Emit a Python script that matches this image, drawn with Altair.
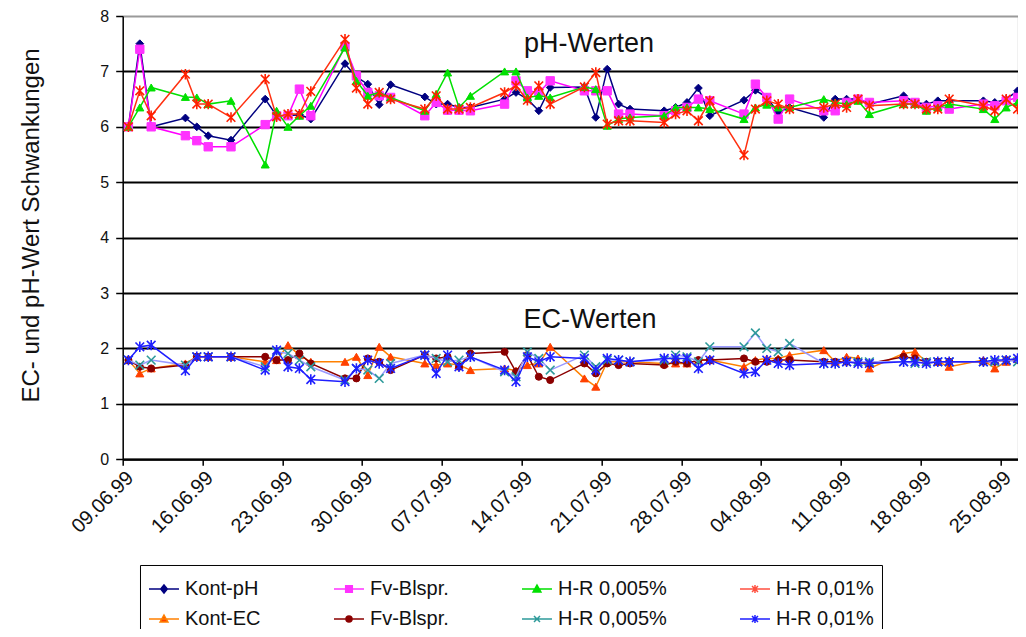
import json
import altair as alt
import pandas as pd

# ---------------- data ----------------
# sampling days, counted from 09.06.99 (readings taken around midday)
days = [0, 1, 2, 5, 6, 7, 9, 12, 13, 14, 15, 16, 19, 20, 21, 22, 23,
        26, 27, 28, 29, 30, 33, 34, 35, 36, 37, 40, 41, 42, 43, 44,
        47, 48, 49, 50, 51, 54, 55, 56, 57, 58, 61, 62, 63, 64, 65,
        68, 69, 70, 71, 72, 75, 76, 77, 78]
reading_hour = 12

kont_ph = [6.0, 7.5, 6.0, 6.16, 6.0, 5.84, 5.76, 6.5, 6.2, 6.2, 6.22, 6.14,
           7.14, 6.9, 6.77, 6.4, 6.76, 6.54, 6.41, 6.41, 6.35, 6.35,
           6.5, 6.62, 6.5, 6.29, 6.71, 6.72, 6.17, 7.04, 6.41, 6.32,
           6.29, 6.35, 6.44, 6.70, 6.2, 6.48, 6.66, 6.53, 6.26, 6.35,
           6.17, 6.5, 6.5, 6.5, 6.41, 6.56, 6.44, 6.41, 6.47, 6.47,
           6.47, 6.44, 6.5, 6.65]
fv_ph = [6.0, 7.4, 6.0, 5.84, 5.75, 5.64, 5.64, 6.04, 6.2, 6.2, 6.68, 6.2,
         7.45, 6.92, 6.62, 6.56, 6.53, 6.2, 6.44, 6.3, 6.3, 6.29,
         6.41, 6.83, 6.65, 6.62, 6.83, 6.65, 6.65, 6.65, 6.23, 6.23,
         6.2, 6.29, 6.35, 6.5, 6.47, 6.23, 6.77, 6.53, 6.14, 6.5,
         6.29, 6.29, 6.44, 6.5, 6.44, 6.47, 6.44, 6.35, 6.38, 6.32,
         6.41, 6.38, 6.47, 6.53]
hr005_ph = [6.0, 6.35, 6.71, 6.54, 6.53, 6.41, 6.47, 5.32, 6.29, 6.0, 6.2, 6.38,
            7.43, 6.83, 6.56, 6.62, 6.53, 6.29, 6.59, 6.98, 6.35, 6.56,
            7.0, 7.0, 6.53, 6.56, 6.53, 6.72, 6.68, 6.02, 6.14, 6.17,
            6.2, 6.35, 6.35, 6.35, 6.32, 6.14, 6.35, 6.4, 6.35, 6.35,
            6.5, 6.44, 6.41, 6.47, 6.23, 6.41, 6.41, 6.29, 6.35, 6.41,
            6.32, 6.14, 6.35, 6.44]
hr01_ph = [6.0, 6.65, 6.2, 6.95, 6.41, 6.41, 6.17, 6.86, 6.18, 6.23, 6.23, 6.64,
           7.58, 6.7, 6.41, 6.62, 6.5, 6.32, 6.56, 6.32, 6.32, 6.35,
           6.62, 6.74, 6.48, 6.74, 6.41, 6.72, 6.98, 6.05, 6.11, 6.11,
           6.08, 6.23, 6.29, 6.11, 6.47, 5.49, 6.32, 6.47, 6.41, 6.32,
           6.35, 6.41, 6.35, 6.5, 6.38, 6.41, 6.41, 6.32, 6.32, 6.5,
           6.38, 6.29, 6.5, 6.32]
kont_ec = [1.79, 1.55, 1.64, 1.73, 1.85, 1.85, 1.85, 1.76, 1.79, 2.06, 1.88, 1.76,
           1.76, 1.85, 1.52, 2.03, 1.85, 1.73, 1.7, 1.73, 1.7, 1.61,
           1.64, 1.6, 1.7, 1.73, 2.03, 1.46, 1.31, 1.76, 1.76, 1.76,
           1.73, 1.73, 1.73, 1.79, 1.79, 1.67, 1.79, 1.82, 1.82, 1.88,
           1.97, 1.76, 1.85, 1.82, 1.64, 1.91, 1.94, 1.76, 1.76, 1.67,
           1.79, 1.64, 1.76, 1.82]
fv_ec = [1.79, 1.67, 1.64, 1.7, 1.85, 1.85, 1.85, 1.85, 1.79, 1.79, 1.91, 1.73,
         1.46, 1.46, 1.82, 1.76, 1.61, 1.88, 1.82, 1.85, 1.67, 1.91,
         1.94, 1.58, 1.88, 1.49, 1.43, 1.73, 1.55, 1.73, 1.7, 1.73,
         1.7, 1.76, 1.73, 1.79, 1.79, 1.82, 1.76, 1.76, 1.79, 1.79,
         1.76, 1.76, 1.76, 1.76, 1.73, 1.85, 1.82, 1.76, 1.76, 1.76,
         1.76, 1.76, 1.79, 1.79]
hr005_ec = [1.79, 1.7, 1.79, 1.7, 1.85, 1.85, 1.85, 1.67, 1.94, 1.91, 1.79, 1.67,
            1.43, 1.64, 1.61, 1.46, 1.73, 1.88, 1.82, 1.76, 1.79, 1.85,
            1.58, 1.49, 1.94, 1.82, 1.61, 1.88, 1.67, 1.79, 1.79, 1.76,
            1.79, 1.88, 1.85, 1.76, 2.03, 2.03, 2.28, 2.0, 1.94, 2.09,
            1.73, 1.73, 1.76, 1.76, 1.76, 1.76, 1.73, 1.76, 1.76, 1.76,
            1.76, 1.76, 1.79, 1.76]
hr01_ec = [1.79, 2.03, 2.06, 1.6, 1.85, 1.85, 1.85, 1.61, 1.97, 1.67, 1.64, 1.44,
           1.4, 1.64, 1.79, 1.73, 1.64, 1.88, 1.55, 1.88, 1.67, 1.85,
           1.61, 1.4, 1.85, 1.76, 1.85, 1.82, 1.61, 1.82, 1.79, 1.76,
           1.82, 1.82, 1.82, 1.64, 1.79, 1.55, 1.58, 1.79, 1.73, 1.7,
           1.73, 1.73, 1.76, 1.73, 1.73, 1.76, 1.76, 1.73, 1.76, 1.76,
           1.76, 1.79, 1.79, 1.82]

series_keys = ["pH Kont", "pH Fv", "pH HR005", "pH HR01",
               "EC Kont", "EC Fv", "EC HR005", "EC HR01"]
legend_labels = ["Kont-pH", "Fv-Blspr.", "H-R 0,005%", "H-R 0,01%",
                 "Kont-EC", "Fv-Blspr.", "H-R 0,005%", "H-R 0,01%"]
series_values = [kont_ph, fv_ph, hr005_ph, hr01_ph, kont_ec, fv_ec, hr005_ec, hr01_ec]

tick_days = [0, 7, 14, 21, 28, 35, 42, 49, 56, 63, 70, 77]
tick_labels = ["09.06.99", "16.06.99", "23.06.99", "30.06.99", "07.07.99", "14.07.99",
               "21.07.99", "28.07.99", "04.08.99", "11.08.99", "18.08.99", "25.08.99"]

annot_text = ["pH-Werten", "EC-Werten"]
annot_day = [40.9, 41.0]
annot_value = [7.5, 2.51]

# ---------------- styles ----------------
STAR = "M-1,-1L1,1M-1,1L1,-1M0,-1.2L0,1.2"
XMARK = "M-1,-1L1,1M-1,1L1,-1"
line_colors = ["#000080", "#FF00FF", "#00E000", "#FF3010",
               "#FF8000", "#8B0000", "#9A9AFF", "#1F1FFF"]
marker_fill = ["#000080", "#FF33FF", "#00E000", "#FF2000",
               "#FF4000", "#8B0000", "#2E9A9A", "#1F1FFF"]
marker_stroke = ["#000080", "#FF33FF", "#00E000", "#FF2000",
                 "#FF4000", "#8B0000", "#2E9A9A", "#1F1FFF"]
marker_shape = ["diamond", "square", "triangle-up", STAR,
                "triangle-up", "circle", XMARK, STAR]
marker_size = [60, 70, 65, 75, 65, 50, 75, 75]
legend_paths = [
    "M-1,0L1,0M0,-0.27L0.22,0L0,0.27L-0.22,0Z",
    "M-1,0L1,0M-0.22,-0.22L0.22,-0.22L0.22,0.22L-0.22,0.22Z",
    "M-1,0L1,0M0,-0.26L0.26,0.2L-0.26,0.2Z",
    "M-1,0L1,0M-0.2,-0.2L0.2,0.2M-0.2,0.2L0.2,-0.2M0,-0.26L0,0.26",
    "M-1,0L1,0M0,-0.26L0.26,0.2L-0.26,0.2Z",
    "M-1,0L1,0M0.2,0A0.2,0.2,0,1,1,-0.2,0A0.2,0.2,0,1,1,0.2,0Z",
    "M-1,0L1,0M-0.2,-0.2L0.2,0.2M-0.2,0.2L0.2,-0.2",
    "M-1,0L1,0M-0.2,-0.2L0.2,0.2M-0.2,0.2L0.2,-0.2M0,-0.26L0,0.26",
]
legend_stroke = ["#000080", "#FF33FF", "#00E000", "#FF5040",
                 "#FF8000", "#8B0000", "#2E9A9A", "#1F1FFF"]

FONT = "Liberation Sans"

# ---------------- table ----------------
rows = []
for key, vals in zip(series_keys, series_values):
    for d, v in zip(days, vals):
        rows.append({"key": key, "x": d + reading_hour / 24.0, "value": v})
df = pd.DataFrame(rows)

annot_df = pd.DataFrame({"text": annot_text, "x": annot_day, "value": annot_value})

x_label_expr = "{}[round(datum.value / 7)]".format(json.dumps(tick_labels))

x_enc = alt.X("x:Q",
              scale=alt.Scale(domain=[0, 78.5], nice=False, zero=False),
              axis=alt.Axis(values=tick_days, labelExpr=x_label_expr, labelAngle=-45,
                            grid=False, title=None, domainColor="black", domainWidth=2,
                            tickColor="black", tickSize=6, tickWidth=1.5,
                            labelFontSize=20, labelPadding=2, labelColor="#111"))
y_enc = alt.Y("value:Q",
              scale=alt.Scale(domain=[0, 8], nice=False),
              axis=alt.Axis(values=list(range(9)), title="EC- und pH-Wert Schwankungen",
                            grid=True, gridWidth=1.8,
                            gridColor={"condition": {"test": "datum.value == 8", "value": "#9a9a9a"},
                                       "value": "#000000"},
                            domainColor="black", domainWidth=1.5,
                            tickColor="black", tickSize=7, tickWidth=1.5,
                            labelFontSize=16, labelPadding=7, labelColor="#111",
                            titleFontSize=24, titleFontWeight="normal", titleColor="#111",
                            titleX=-91, titleY=209, titleBaseline="middle"))

layers = []
for i, key in enumerate(series_keys):
    base = alt.Chart().transform_filter(alt.datum.key == key)
    layers.append(base.mark_line(color=line_colors[i], strokeWidth=1.5, clip=False)
                  .encode(x=x_enc, y=y_enc))
    filled_shape = marker_shape[i] not in (STAR, XMARK)
    layers.append(base.mark_point(shape=marker_shape[i], size=marker_size[i],
                                  filled=filled_shape,
                                  fill=marker_fill[i] if filled_shape else "transparent",
                                  stroke=marker_stroke[i],
                                  strokeWidth=1.0 if filled_shape else 1.6,
                                  opacity=1, clip=False)
                  .encode(x=x_enc, y=y_enc))

text_layer = alt.Chart(annot_df).mark_text(font=FONT, fontSize=27, color="#111",
                                           align="center", baseline="middle").encode(
    x=x_enc, y=y_enc, text="text:N")
layers.append(text_layer)

label_expr = "{}[indexof({}, datum.label)]".format(json.dumps(legend_labels), json.dumps(series_keys))
leg = alt.Legend(orient="none", legendX=17.3, legendY=549, columns=4, direction="horizontal",
                 title=None,
                 symbolSize=900, symbolStrokeWidth=1.5, symbolOpacity=1,
                 labelFont=FONT, labelFontSize=20, labelLimit=400, labelOffset=5,
                 labelColor="#111", labelExpr=label_expr,
                 strokeColor="black", fillColor="white", padding=8,
                 rowPadding=4, columnPadding=70, gridAlign="each")

legend_layer = alt.Chart().transform_filter("false").mark_point(filled=True).encode(
    shape=alt.Shape("key:N", scale=alt.Scale(domain=series_keys, range=legend_paths), legend=leg),
    fill=alt.Fill("key:N", scale=alt.Scale(domain=series_keys, range=marker_fill), legend=leg),
    stroke=alt.Stroke("key:N", scale=alt.Scale(domain=series_keys, range=legend_stroke), legend=leg),
)
layers.append(legend_layer)

chart = alt.layer(*layers, data=df).properties(
    width=894.9, height=443.3,
    padding={"left": 114.7, "top": 8, "right": 0, "bottom": 169.7},
    autosize=alt.AutoSizeParams(type="none"),
).configure_view(stroke=None).configure_axis(
    labelFont=FONT, titleFont=FONT
).configure(background="white")

chart.save("out.html", embed_options={"renderer": "svg", "actions": False})
